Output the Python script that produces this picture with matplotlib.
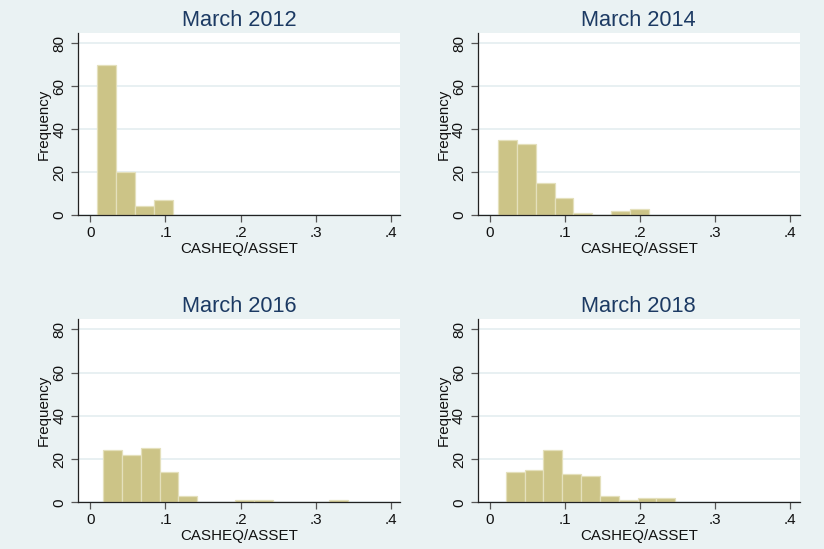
import numpy as np
import matplotlib
matplotlib.use("Agg")
import matplotlib.pyplot as plt

plt.rcParams["font.family"] = ["Liberation Sans", "DejaVu Sans"]

# histogram bins: first bin edge, bin width, counts per bin
titles = ["March 2012", "March 2014", "March 2016", "March 2018"]
bin_start = [0.0089, 0.0107, 0.0169, 0.0209]
bin_width = [0.0253, 0.0251, 0.0251, 0.0251]
counts_2012 = [70, 20, 4, 7]
counts_2014 = [35, 33, 15, 8, 1, 0, 2, 3]
counts_2016 = [24, 22, 25, 14, 3, 0, 0, 1, 1, 0, 0, 0, 1]
counts_2018 = [14, 15, 24, 13, 12, 3, 1, 2, 2]
counts = [counts_2012, counts_2014, counts_2016, counts_2018]

x_ticks = [0, 0.1, 0.2, 0.3, 0.4]
x_ticklabels = ["0", ".1", ".2", ".3", ".4"]
y_ticks = [0, 20, 40, 60, 80]

bg = "#EAF2F3"
bar_fill = "#CCC487"
bar_edge = "#E4E0BC"
title_col = "#1C3A63"

W, H = 824, 549
fig = plt.figure(figsize=(W / 100, H / 100), dpi=100, facecolor=bg)

# panel boxes in pixels: left, bottom (y of zero line from top), width, height
boxes = [(78, 215, 322, 182), (477.7, 215, 322, 182),
         (78, 502.3, 322, 183), (477.7, 502.3, 322, 183)]

for i in range(4):
    l, b, w, h = boxes[i]
    ax = fig.add_axes([l / W, (H - b) / H, w / W, h / H])
    ax.set_facecolor("white")

    c = np.array(counts[i])
    left = bin_start[i] + bin_width[i] * np.arange(len(c))
    ax.bar(left, c, width=bin_width[i], align="edge", color=bar_fill,
           edgecolor=bar_edge, linewidth=0.9, zorder=3)

    ax.set_xlim(-0.0165, 0.4125)
    ax.set_ylim(0, 84.7)
    ax.set_xticks(x_ticks)
    ax.set_xticklabels(x_ticklabels)
    ax.set_yticks(y_ticks)
    ax.set_yticklabels([str(v) for v in y_ticks], rotation=90, va="center")
    ax.yaxis.grid(True, color="#E8F0F2", linewidth=1.4, zorder=0)
    ax.set_axisbelow(True)

    for s in ["top", "right"]:
        ax.spines[s].set_visible(False)
    for s in ["left", "bottom"]:
        ax.spines[s].set_color("#222222")
        ax.spines[s].set_linewidth(0.9)
        ax.spines[s].set_zorder(4)
    ax.tick_params(axis="both", length=5, width=0.9, color="#555555",
                   labelsize=11, labelcolor="#111111")
    ax.tick_params(axis="y", pad=3.5)
    ax.tick_params(axis="x", pad=3)

    ax.set_title(titles[i], fontsize=15.7, color=title_col, pad=5)
    ax.set_xlabel("CASHEQ/ASSET", fontsize=10.9, color="#111111", labelpad=1)
    ax.set_ylabel("Frequency", fontsize=10.9, color="#111111", labelpad=1)

fig.savefig("out.png", dpi=100, facecolor=bg)
